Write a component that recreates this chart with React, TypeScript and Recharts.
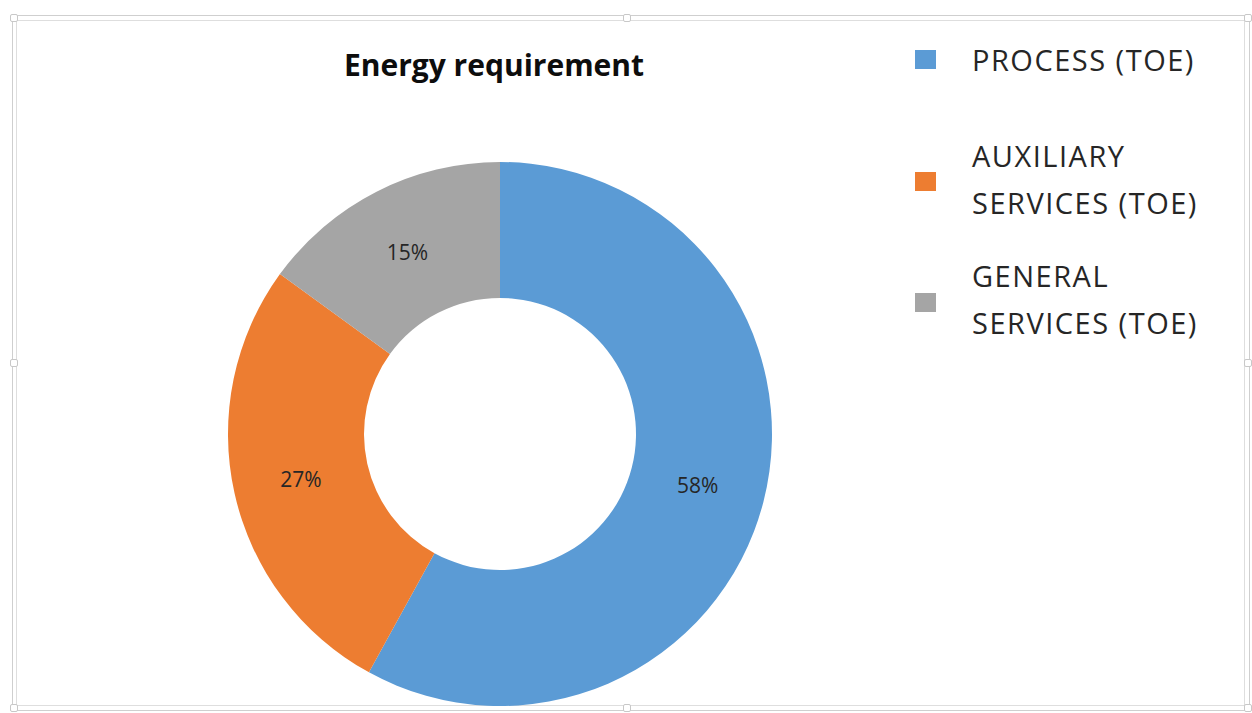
import React from 'react';
import { PieChart, Pie, Cell, Legend } from 'recharts';

const categories = ['PROCESS (TOE)', 'AUXILIARY SERVICES (TOE)', 'GENERAL SERVICES (TOE)'];
const legendLines = [['PROCESS (TOE)'], ['AUXILIARY', 'SERVICES (TOE)'], ['GENERAL', 'SERVICES (TOE)']];
const shares = [58, 27, 15];
const colors = ['#5B9BD5', '#ED7D31', '#A5A5A5'];

const chartData = categories.map((name, i) => ({ name, value: shares[i], color: colors[i] }));

const RADIAN = Math.PI / 180;

const renderLabel = (props: any) => {
  const { cx, cy, midAngle, innerRadius, outerRadius, percent } = props;
  const r = innerRadius + (outerRadius - innerRadius) / 2;
  const x = cx + r * Math.cos(-midAngle * RADIAN);
  const y = cy + r * Math.sin(-midAngle * RADIAN);
  return (
    <text x={x} y={y} fill="#262626" fontSize={21} fontFamily="Open Sans" textAnchor="middle" dominantBaseline="central">
      {`${Math.round(percent * 100)}%`}
    </text>
  );
};

// legend drawn by hand so the labels wrap like the original
const itemTops = [36, 132, 252];
const squareTops = [50, 172, 293];

const renderLegend = () => (
  <div style={{ position: 'relative', width: 330, height: 340, fontFamily: 'Open Sans', fontSize: 29, letterSpacing: 1.5, color: '#262626' }}>
    {legendLines.map((lines, i) => (
      <React.Fragment key={i}>
        <div style={{ position: 'absolute', left: 0, top: squareTops[i] - 40, width: 21, height: 19, background: colors[i] }} />
        <div style={{ position: 'absolute', left: 57, top: itemTops[i] - 40, lineHeight: '47px', whiteSpace: 'nowrap' }}>
          {lines.map((l) => (
            <div key={l}>{l}</div>
          ))}
        </div>
      </React.Fragment>
    ))}
  </div>
);

const handle = (left: number, top: number, key: string) => (
  <div
    key={key}
    style={{
      position: 'absolute', left: left - 4, top: top - 4, width: 8, height: 8,
      border: '1px solid #c8c8c8', background: '#fff', borderRadius: 2, boxSizing: 'border-box',
    }}
  />
);

export default function App() {
  return (
    <div style={{ position: 'absolute', left: 0, top: 0, width: 1252, height: 713, background: '#fff', overflow: 'hidden' }}>
      <div style={{ position: 'absolute', left: 12, top: 15, width: 1238, height: 696, border: '1px solid #cfcfcf', boxSizing: 'border-box' }} />
      <div style={{ position: 'absolute', left: 16, top: 20, width: 1229, height: 686, border: '1px solid #dedede', boxSizing: 'border-box' }} />
      {handle(14, 18, 'tl')}
      {handle(627, 18, 'tm')}
      {handle(1248, 18, 'tr')}
      {handle(14, 363, 'ml')}
      {handle(1248, 363, 'mr')}
      {handle(14, 708, 'bl')}
      {handle(627, 708, 'bm')}
      {handle(1248, 708, 'br')}
      <div style={{ position: 'absolute', left: 294, top: 45, width: 400, textAlign: 'center', fontFamily: 'Open Sans', fontWeight: 700, fontSize: 30, lineHeight: '40px', color: '#0d0d0d' }}>
        Energy requirement
      </div>
      <PieChart width={1252} height={713} margin={{ top: 0, right: 0, bottom: 0, left: 0 }} style={{ position: 'absolute', left: 0, top: 0 }}>
        <Pie
          data={chartData}
          dataKey="value"
          nameKey="name"
          cx={500}
          cy={434}
          innerRadius={136}
          outerRadius={272}
          startAngle={90}
          endAngle={-270}
          stroke="none"
          label={renderLabel}
          labelLine={false}
          isAnimationActive={false}
        >
          {chartData.map((entry, index) => (
            <Cell key={`cell-${index}`} fill={entry.color} />
          ))}
        </Pie>
        <Legend content={renderLegend} wrapperStyle={{ position: 'absolute', left: 915, top: 40, width: 330 }} />
      </PieChart>
    </div>
  );
}
